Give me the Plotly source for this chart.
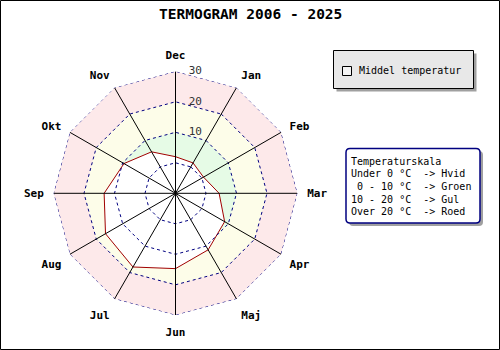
import plotly.graph_objects as go

months = ["Jan", "Feb", "Mar", "Apr", "Maj", "Jun", "Jul", "Aug", "Sep", "Okt", "Nov", "Dec"]
mean_temp = [1.5, 0.6, 4.3, 8.6, 11.4, 14.7, 17.9, 16.5, 13.4, 9.5, 5.7, 2.0]
band_levels = [30, 20, 10, 0]
band_colors = ["#fde9ea", "#fdfde9", "#e6fbe6", "#ffffff"]
ring_levels = [0, 10, 20, 30]
ring_labels = ["0", "10", "20", "30"]
r_min, r_max = -10, 30
title = "TERMOGRAM 2006 - 2025"
series_name = "Middel temperatur"
scale_lines = ["Temperaturskala", "Under 0 °C  -> Hvid", " 0 - 10 °C  -> Groen",
               "10 - 20 °C  -> Gul", "Over 20 °C  -> Roed"]

W, H = 500, 350
def px(x): return x / W
def py(y): return 1 - y / H

closed = months + [months[0]]
fig = go.Figure()

for lvl, col in zip(band_levels, band_colors):
    fig.add_trace(go.Scatterpolar(r=[lvl] * len(closed), theta=closed, mode="lines",
                                  fill="toself", fillcolor=col, line=dict(width=0, color=col),
                                  showlegend=False, hoverinfo="skip"))

fig.add_trace(go.Scatterpolar(r=mean_temp + [mean_temp[0]], theta=closed, mode="lines",
                              fill="toself", fillcolor="#ffffff",
                              line=dict(color="#a00000", width=1), name=series_name,
                              showlegend=False))

for lvl in ring_levels:
    fig.add_trace(go.Scatterpolar(r=[lvl] * len(closed), theta=closed, mode="lines",
                                  line=dict(color="#000080", width=1, dash="dot"),
                                  showlegend=False, hoverinfo="skip"))

sr, st = [], []
for m in months:
    sr += [r_min, r_max, None]
    st += [m, m, None]
fig.add_trace(go.Scatterpolar(r=sr, theta=st, mode="lines", line=dict(color="black", width=1),
                              showlegend=False, hoverinfo="skip", connectgaps=False))
fig.add_trace(go.Scatterpolar(r=[r_min], theta=[months[0]], mode="markers",
                              marker=dict(color="black", size=7), showlegend=False, hoverinfo="skip"))
# radial tick labels along the Dec spoke
fig.add_trace(go.Scatterpolar(r=ring_levels, theta=[months[-1]] * len(ring_levels), mode="text",
                              text=["&nbsp;&nbsp;" + t for t in ring_labels], textposition="middle right",
                              textfont=dict(family="DejaVu Sans Mono", size=11, color="#333"),
                              showlegend=False, hoverinfo="skip", cliponaxis=False))

cx, cy, R = 175.5, 193.3, 122
fig.update_layout(
    width=W, height=H, margin=dict(l=0, r=0, t=0, b=0),
    paper_bgcolor="white", showlegend=False,
    polar=dict(
        domain=dict(x=[px(cx - R), px(cx + R)], y=[py(cy + R), py(cy - R)]),
        bgcolor="white", gridshape="linear",
        radialaxis=dict(range=[r_min, r_max], showticklabels=False,
                        showgrid=False, showline=False, ticks=""),
        angularaxis=dict(type="category", categoryarray=months, categoryorder="array",
                         direction="clockwise", rotation=60, showgrid=False, showline=False,
                         ticks="outside", ticklen=7, tickcolor="rgba(0,0,0,0)",
                         tickvals=months, ticktext=["<b>%s</b>" % m for m in months],
                         tickfont=dict(family="DejaVu Sans Mono", size=11, color="black")),
    ),
)

shapes = []
shapes.append(dict(type="rect", xref="paper", yref="paper", x0=px(0.5), x1=px(499.5),
                   y0=py(349.5), y1=py(0.5), line=dict(color="black", width=1)))
# legend box
shapes.append(dict(type="rect", xref="paper", yref="paper", x0=px(336.5), x1=px(476.5),
                   y0=py(91.5), y1=py(53.5), fillcolor="#a0a0a0", line=dict(width=0)))
shapes.append(dict(type="rect", xref="paper", yref="paper", x0=px(333.5), x1=px(473.5),
                   y0=py(88.5), y1=py(50.5), fillcolor="#e8e8e8", line=dict(color="black", width=1)))
shapes.append(dict(type="rect", xref="paper", yref="paper", x0=px(342.5), x1=px(351.5),
                   y0=py(75.5), y1=py(66.5), fillcolor="#f4f4f4", line=dict(color="black", width=1)))
# scale box with rounded corners
def rrect(x0, y0, x1, y1, r):
    return (f"M {px(x0+r)} {py(y0)} L {px(x1-r)} {py(y0)} Q {px(x1)} {py(y0)} {px(x1)} {py(y0+r)} "
            f"L {px(x1)} {py(y1-r)} Q {px(x1)} {py(y1)} {px(x1-r)} {py(y1)} "
            f"L {px(x0+r)} {py(y1)} Q {px(x0)} {py(y1)} {px(x0)} {py(y1-r)} "
            f"L {px(x0)} {py(y0+r)} Q {px(x0)} {py(y0)} {px(x0+r)} {py(y0)} Z")
shapes.append(dict(type="path", xref="paper", yref="paper", path=rrect(349, 151, 483, 226, 4),
                   fillcolor="#a0a0a0", line=dict(width=0)))
shapes.append(dict(type="path", xref="paper", yref="paper", path=rrect(346, 148.5, 480, 223, 4),
                   fillcolor="white", line=dict(color="#000080", width=1.5)))
fig.update_layout(shapes=shapes)

ann = []
ann.append(dict(text="<b>%s</b>" % title, x=px(250), y=py(14.5), xref="paper", yref="paper",
                showarrow=False, xanchor="center", yanchor="middle",
                font=dict(family="DejaVu Sans Mono", size=14.5, color="black")))
ann.append(dict(text=series_name, x=px(357), y=py(70.5), xref="paper", yref="paper",
                showarrow=False, xanchor="left", yanchor="middle",
                font=dict(family="DejaVu Sans Mono", size=10, color="black")))
for i, line in enumerate(scale_lines):
    ann.append(dict(text=line.replace(" ", "&nbsp;"), x=px(349), y=py(161 + i * 12.7),
                    xref="paper", yref="paper", showarrow=False, xanchor="left", yanchor="middle",
                    font=dict(family="DejaVu Sans Mono", size=10, color="black")))
fig.update_layout(annotations=ann)

fig.write_html("out.html")
